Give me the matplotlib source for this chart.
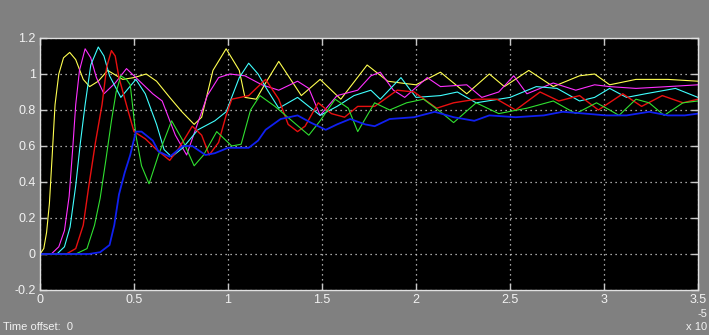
import numpy as np
import matplotlib.pyplot as plt
from matplotlib.ticker import FuncFormatter, MultipleLocator

# tiempo en unidades de 1e-5 s
t_amarillo = [0, 0.02, 0.035, 0.05, 0.065, 0.08, 0.1, 0.125, 0.158, 0.19,
              0.23, 0.264, 0.31, 0.36, 0.44, 0.5, 0.565, 0.62, 0.69, 0.755,
              0.82, 0.86, 0.92, 0.99, 1.06, 1.09, 1.15, 1.2, 1.27, 1.39,
              1.49, 1.6, 1.74, 1.85, 1.92, 2.0, 2.13, 2.27, 2.39, 2.47,
              2.6, 2.73, 2.87, 2.95, 3.03, 3.17, 3.34, 3.5]
y_amarillo = [0, 0.03, 0.12, 0.28, 0.55, 0.83, 1.0, 1.09, 1.12, 1.08,
              0.97, 0.93, 0.96, 1.02, 0.97, 0.98, 1.0, 0.96, 0.87, 0.79,
              0.72, 0.76, 1.02, 1.14, 1.02, 0.87, 0.86, 0.95, 1.07, 0.88,
              0.97, 0.86, 1.05, 0.96, 0.95, 0.94, 1.01, 0.89, 1.0, 0.93,
              1.02, 0.93, 0.99, 1.0, 0.94, 0.97, 0.97, 0.96]

t_magenta = [0, 0.06, 0.1, 0.13, 0.155, 0.175, 0.19, 0.21, 0.24, 0.27,
             0.3, 0.34, 0.4, 0.46, 0.53, 0.6, 0.65, 0.72, 0.78, 0.83,
             0.89, 0.95, 1.01, 1.09, 1.18, 1.27, 1.37, 1.43, 1.49, 1.58,
             1.69, 1.76, 1.81, 1.88, 1.94, 2.06, 2.13, 2.27, 2.35, 2.44,
             2.52, 2.59, 2.73, 2.85, 2.95, 3.03, 3.17, 3.34, 3.5]
y_magenta = [0, 0.0, 0.04, 0.13, 0.32, 0.6, 0.83, 1.02, 1.14, 1.09,
             0.98, 0.89, 0.95, 1.03, 0.96, 0.89, 0.85, 0.66, 0.55, 0.70,
             0.88, 0.98, 1.0, 0.99, 0.94, 0.91, 0.96, 0.92, 0.77, 0.88,
             0.91, 0.99, 1.01, 0.91, 0.87, 0.98, 0.93, 0.94, 0.87, 0.90,
             0.99, 0.89, 0.95, 0.91, 0.94, 0.93, 0.92, 0.93, 0.94]

t_cian = [0, 0.09, 0.13, 0.16, 0.19, 0.215, 0.24, 0.27, 0.31, 0.34,
          0.37, 0.43, 0.51, 0.56, 0.62, 0.66, 0.7, 0.76, 0.84, 0.93,
          0.99, 1.06, 1.11, 1.16, 1.21, 1.27, 1.37, 1.49, 1.58, 1.67,
          1.76, 1.81, 1.92, 2.0, 2.13, 2.22, 2.32, 2.5, 2.64, 2.75,
          2.87, 2.95, 3.03, 3.12, 3.22, 3.38, 3.5]
y_cian = [0, 0.0, 0.04, 0.15, 0.38, 0.62, 0.83, 1.05, 1.15, 1.1,
          0.99, 0.87, 0.97, 0.89, 0.72, 0.58, 0.54, 0.59, 0.69, 0.74,
          0.79, 0.98, 1.06, 1.0, 0.91, 0.81, 0.87, 0.77, 0.82, 0.88,
          0.91, 0.86, 0.98, 0.87, 0.88, 0.9, 0.84, 0.87, 0.93, 0.92,
          0.85, 0.87, 0.92, 0.87, 0.89, 0.92, 0.87]

t_rojo = [0, 0.14, 0.19, 0.23, 0.26, 0.295, 0.33, 0.355, 0.38, 0.4,
          0.42, 0.47, 0.5, 0.56, 0.62, 0.69, 0.74, 0.81, 0.86, 0.9,
          0.95, 0.99, 1.02, 1.11, 1.2, 1.27, 1.32, 1.37, 1.41, 1.48,
          1.55, 1.62, 1.69, 1.78, 1.9, 1.99, 2.11, 2.2, 2.32, 2.43,
          2.53, 2.66, 2.76, 2.87, 2.97, 3.1, 3.2, 3.31, 3.42, 3.5]
y_rojo = [0, 0.0, 0.03, 0.16, 0.38, 0.62, 0.83, 1.04, 1.13, 1.1,
          0.98, 0.79, 0.68, 0.64, 0.58, 0.52, 0.59, 0.71, 0.66, 0.55,
          0.62, 0.77, 0.86, 0.88, 0.97, 0.86, 0.72, 0.68, 0.71, 0.84,
          0.78, 0.76, 0.82, 0.82, 0.91, 0.9, 0.81, 0.84, 0.86, 0.86,
          0.80, 0.9, 0.85, 0.88, 0.80, 0.89, 0.82, 0.88, 0.84, 0.86]

t_verde = [0, 0.19, 0.25, 0.29, 0.32, 0.35, 0.38, 0.405, 0.43, 0.46,
           0.48, 0.51, 0.54, 0.58, 0.63, 0.7, 0.76, 0.82, 0.87, 0.94,
           1.02, 1.07, 1.12, 1.17, 1.25, 1.34, 1.43, 1.49, 1.57, 1.64,
           1.69, 1.78, 1.86, 1.95, 2.04, 2.13, 2.2, 2.32, 2.44, 2.59,
           2.73, 2.85, 2.96, 3.03, 3.08, 3.17, 3.24, 3.32, 3.42, 3.5]
y_verde = [0, 0.0, 0.03, 0.16, 0.31, 0.52, 0.74, 0.9, 0.99, 0.97,
           0.94, 0.66, 0.49, 0.39, 0.55, 0.74, 0.63, 0.49, 0.55, 0.68,
           0.6, 0.61, 0.8, 0.88, 0.82, 0.74, 0.66, 0.74, 0.86, 0.81,
           0.68, 0.84, 0.8, 0.84, 0.86, 0.79, 0.73, 0.84, 0.78, 0.81,
           0.85, 0.78, 0.84, 0.8, 0.77, 0.86, 0.84, 0.77, 0.84, 0.85]

t_azul = [0, 0.26, 0.32, 0.37, 0.395, 0.42, 0.45, 0.48, 0.51, 0.54,
          0.6, 0.63, 0.69, 0.76, 0.81, 0.88, 0.93, 1.0, 1.11, 1.16,
          1.2, 1.28, 1.37, 1.44, 1.52, 1.58, 1.65, 1.73, 1.78, 1.86,
          1.99, 2.1, 2.2, 2.31, 2.39, 2.53, 2.68, 2.78, 2.9, 3.01,
          3.12, 3.24, 3.34, 3.43, 3.5]
y_azul = [0, 0.0, 0.01, 0.05, 0.16, 0.33, 0.45, 0.55, 0.68, 0.68,
          0.63, 0.57, 0.54, 0.6, 0.6, 0.55, 0.56, 0.59, 0.59, 0.63,
          0.69, 0.75, 0.77, 0.73, 0.69, 0.72, 0.75, 0.72, 0.71, 0.75,
          0.76, 0.79, 0.76, 0.74, 0.77, 0.76, 0.77, 0.79, 0.78, 0.77,
          0.77, 0.79, 0.77, 0.77, 0.78]

ESCALA = 1e-5
fuente = ['Liberation Sans Narrow', 'Liberation Sans', 'DejaVu Sans']
gris_fondo = '#808080'
texto = '#f2f2f2'

fig = plt.figure(figsize=(7.09, 3.35), dpi=100, facecolor=gris_fondo)
ax = fig.add_axes([40 / 709, 45 / 335, 658 / 709, 252 / 335])
ax.set_facecolor('black')

# señales del scope, en el orden de colores de Simulink
series = [
    (t_amarillo, y_amarillo, '#ffff50', 0.8),
    (t_magenta, y_magenta, '#ff30ff', 0.8),
    (t_cian, y_cian, '#40ffff', 0.8),
    (t_rojo, y_rojo, '#e81010', 1.0),
    (t_verde, y_verde, '#30e030', 0.8),
    (t_azul, y_azul, '#1020f0', 1.3),
]
for t, y, color, lw in series:
    ax.plot(np.array(t) * ESCALA, y, color=color, lw=lw)

ax.set_xlim(0, 3.5 * ESCALA)
ax.set_ylim(-0.2, 1.2)
ax.xaxis.set_major_locator(MultipleLocator(0.5 * ESCALA))
ax.yaxis.set_major_locator(MultipleLocator(0.2))
ax.xaxis.set_major_formatter(FuncFormatter(lambda v, p: f"{v / ESCALA:g}"))
ax.yaxis.set_major_formatter(FuncFormatter(lambda v, p: f"{v:g}" if abs(v) > 1e-9 else "0"))

# cuadrícula punteada
ax.grid(True, color='#d8d8d8', linestyle=(0, (1, 3)), linewidth=0.9)

ax.tick_params(direction='in', length=5, width=1, color='#c8c8c8',
               top=True, right=True, labelcolor=texto, labelsize=9)
for lab in ax.get_xticklabels() + ax.get_yticklabels():
    lab.set_family(fuente)
ax.tick_params(axis='x', pad=3)
ax.tick_params(axis='y', pad=3)

for lado in ax.spines.values():
    lado.set_color('#e0e0e0')
    lado.set_linewidth(1)

fig.text(3 / 709, 1 - 327 / 335, "Time offset:  0", color=texto,
         fontsize=8, family=fuente, va='center', ha='left')
fig.text(686 / 709, 1 - 327 / 335, "x 10", color=texto,
         fontsize=8, family=fuente, va='center', ha='left')
fig.text(697 / 709, 1 - 314 / 335, "-5", color=texto,
         fontsize=8, family=fuente, va='center', ha='left')

plt.savefig("out.png", dpi=100, facecolor=gris_fondo)
plt.close()
